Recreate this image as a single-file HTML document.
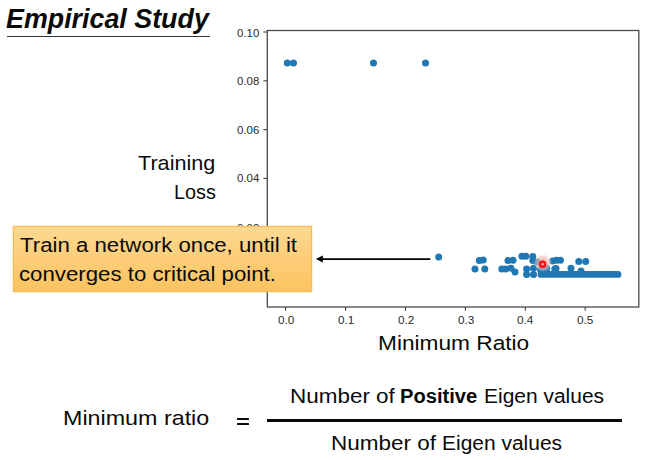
<!DOCTYPE html>
<html><head><meta charset="utf-8">
<style>
html,body{margin:0;padding:0;background:#fff;}
body{width:646px;height:460px;position:relative;overflow:hidden;font-family:"Liberation Sans",sans-serif;color:#0a0a0a;}
.t{position:absolute;white-space:nowrap;line-height:1;transform-origin:0 0;}
#uline{position:absolute;left:6.5px;top:36.1px;width:203.5px;height:1.4px;background:#333;}
#box{position:absolute;z-index:1;left:12.5px;top:225.5px;width:299px;height:66px;box-sizing:border-box;border:1px solid #f6bb55;background:linear-gradient(#fdd892,#fcc35f);box-shadow:0 0 2px rgba(245,190,90,.7);}
</style></head><body>
<div id="uline"></div>
<svg style="position:absolute;left:0;top:0" width="646" height="460" viewBox="0 0 646 460">
  <defs><radialGradient id="glow"><stop offset="0" stop-color="#f5a497" stop-opacity=".85"/><stop offset=".55" stop-color="#f6b4a8" stop-opacity=".7"/><stop offset=".85" stop-color="#f9cfc6" stop-opacity=".4"/><stop offset="1" stop-color="#ffe6e0" stop-opacity="0"/></radialGradient></defs>
  <rect x="267.3" y="30.5" width="371.5" height="276.5" fill="none" stroke="#4a4a4a" stroke-width="1.3"/>
  <g stroke="#444" stroke-width="1.1">
    <line x1="263.3" x2="267" y1="32" y2="32"/>
    <line x1="263.3" x2="267" y1="80.8" y2="80.8"/>
    <line x1="263.3" x2="267" y1="129.6" y2="129.6"/>
    <line x1="263.3" x2="267" y1="178.4" y2="178.4"/>
    <line x1="263.3" x2="267" y1="227.2" y2="227.2"/>
    <line y1="307" y2="310.8" x1="285.6" x2="285.6"/>
    <line y1="307" y2="310.8" x1="345.6" x2="345.6"/>
    <line y1="307" y2="310.8" x1="405.5" x2="405.5"/>
    <line y1="307" y2="310.8" x1="465.4" x2="465.4"/>
    <line y1="307" y2="310.8" x1="525.3" x2="525.3"/>
    <line y1="307" y2="310.8" x1="585.2" x2="585.2"/>
  </g>
  <g fill="#1f77b4"><circle cx="287.3" cy="63.0" r="3.5"/><circle cx="293.5" cy="63.0" r="3.5"/><circle cx="373.5" cy="63.0" r="3.5"/><circle cx="425.5" cy="63.0" r="3.5"/><circle cx="438.7" cy="257.0" r="3.5"/><circle cx="479.3" cy="260.5" r="3.5"/><circle cx="483.2" cy="260.0" r="3.5"/><circle cx="475.0" cy="269.0" r="3.5"/><circle cx="484.8" cy="269.0" r="3.5"/><circle cx="508.0" cy="260.5" r="3.5"/><circle cx="513.0" cy="260.3" r="3.5"/><circle cx="501.8" cy="269.0" r="3.5"/><circle cx="505.7" cy="269.0" r="3.5"/><circle cx="511.0" cy="268.2" r="3.5"/><circle cx="515.0" cy="272.0" r="3.5"/><circle cx="522.0" cy="256.2" r="3.5"/><circle cx="525.8" cy="256.2" r="3.5"/><circle cx="532.8" cy="256.6" r="3.5"/><circle cx="532.8" cy="260.5" r="3.5"/><circle cx="526.6" cy="269.0" r="3.5"/><circle cx="526.6" cy="274.4" r="3.5"/><circle cx="533.5" cy="268.2" r="3.5"/><circle cx="533.5" cy="274.4" r="3.5"/><circle cx="546.7" cy="268.0" r="3.5"/><circle cx="552.6" cy="261.0" r="3.5"/><circle cx="556.4" cy="260.3" r="3.5"/><circle cx="560.4" cy="260.3" r="3.5"/><circle cx="556.0" cy="268.5" r="3.5"/><circle cx="578.8" cy="261.6" r="3.5"/><circle cx="585.7" cy="261.6" r="3.5"/><circle cx="554.8" cy="269.0" r="3.5"/><circle cx="571.0" cy="268.2" r="3.5"/><circle cx="581.0" cy="271.0" r="3.5"/><circle cx="540.5" cy="269.5" r="3.5"/><circle cx="546.0" cy="270.5" r="3.5"/><circle cx="537.5" cy="262.0" r="3.5"/>
    <line x1="541" x2="618" y1="274.4" y2="274.4" stroke="#1f77b4" stroke-width="6.8" stroke-linecap="round"/>
  </g>
  <circle cx="542.9" cy="262.8" r="9" fill="url(#glow)"/>
  <circle cx="542.6" cy="264.3" r="2.5" fill="#ffc4b4" stroke="#f41212" stroke-width="2.5"/>
  <line x1="321.5" x2="430.3" y1="259.1" y2="259.1" stroke="#000" stroke-width="1.9"/>
  <path d="M315.8 259.1 L322.8 255.6 L322.8 262.6 Z" fill="#000"/>
</svg>
<div class="t" style="left:5.74px;top:6.34px;font-size:27.03px;transform:scaleX(0.9933);font-weight:bold;font-style:italic;">Empirical Study</div>
<div class="t" style="left:138.39px;top:153.28px;font-size:20.93px;transform:scaleX(1.0336);">Training</div>
<div class="t" style="left:174.33px;top:182.28px;font-size:20.93px;transform:scaleX(0.9474);">Loss</div>
<div class="t" style="left:378.02px;top:332.16px;font-size:21.08px;transform:scaleX(1.0757);">Minimum Ratio</div>
<div class="t" style="left:19.58px;top:234.97px;font-size:20.35px;transform:scaleX(1.0920);z-index:2;">Train a network once, until it</div>
<div class="t" style="left:19.11px;top:263.77px;font-size:20.35px;transform:scaleX(1.0926);z-index:2;">converges to critical point.</div>
<div class="t" style="left:62.74px;top:407.73px;font-size:20.64px;transform:scaleX(1.1293);">Minimum ratio</div>
<div class="t" style="left:289.82px;top:386.37px;font-size:20.35px;transform:scaleX(1.1038);">Number of</div>
<div class="t" style="left:399.89px;top:386.37px;font-size:20.35px;transform:scaleX(0.9895);"><b>Positive</b></div>
<div class="t" style="left:483.84px;top:386.37px;font-size:20.35px;transform:scaleX(1.0304);">Eigen values</div>
<div class="t" style="left:330.95px;top:432.77px;font-size:20.35px;transform:scaleX(1.1053);">Number of</div>
<div class="t" style="left:442.38px;top:432.77px;font-size:20.35px;transform:scaleX(1.0303);">Eigen values</div>
<div class="t" style="left:237.40px;top:28.86px;font-size:10.32px;transform:scaleX(1.1112);color:#2a2a2a;">0.10</div>
<div class="t" style="left:237.40px;top:77.06px;font-size:10.32px;transform:scaleX(1.1112);color:#2a2a2a;">0.08</div>
<div class="t" style="left:237.40px;top:126.26px;font-size:10.32px;transform:scaleX(1.1112);color:#2a2a2a;">0.06</div>
<div class="t" style="left:237.40px;top:174.46px;font-size:10.32px;transform:scaleX(1.1112);color:#2a2a2a;">0.04</div>
<div class="t" style="left:237.40px;top:223.66px;font-size:10.32px;transform:scaleX(1.1112);color:#2a2a2a;">0.02</div>
<div class="t" style="left:277.70px;top:316.14px;font-size:10.47px;transform:scaleX(1.1219);color:#2a2a2a;">0.0</div>
<div class="t" style="left:337.70px;top:316.14px;font-size:10.47px;transform:scaleX(1.1219);color:#2a2a2a;">0.1</div>
<div class="t" style="left:397.60px;top:316.14px;font-size:10.47px;transform:scaleX(1.1219);color:#2a2a2a;">0.2</div>
<div class="t" style="left:457.50px;top:316.14px;font-size:10.47px;transform:scaleX(1.1219);color:#2a2a2a;">0.3</div>
<div class="t" style="left:517.40px;top:316.14px;font-size:10.47px;transform:scaleX(1.1219);color:#2a2a2a;">0.4</div>
<div class="t" style="left:577.30px;top:316.14px;font-size:10.47px;transform:scaleX(1.1219);color:#2a2a2a;">0.5</div>
<div id="box"></div>
<div style="position:absolute;left:237.1px;top:417.9px;width:12.2px;height:2px;background:#0a0a0a;border-radius:.5px"></div><div style="position:absolute;left:237.1px;top:423.4px;width:12.2px;height:2px;background:#0a0a0a;border-radius:.5px"></div>
<div style="position:absolute;left:267px;top:419px;width:354.5px;height:3px;background:#080808"></div>
</body></html>
